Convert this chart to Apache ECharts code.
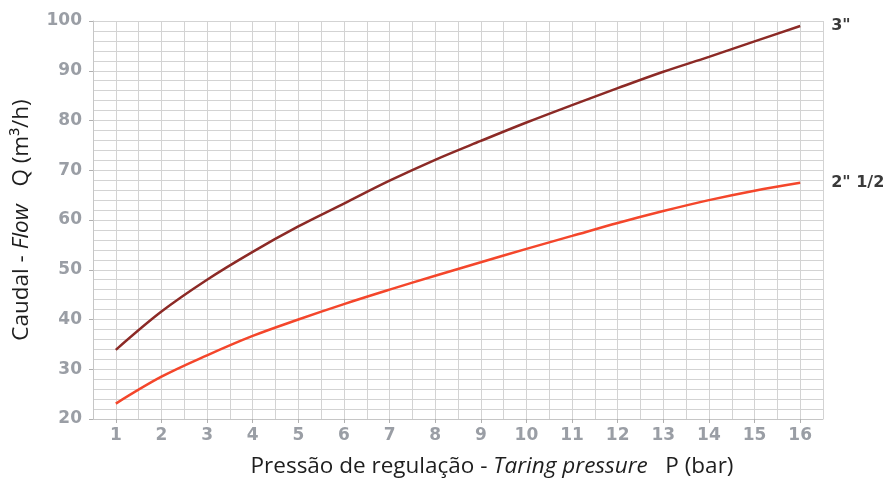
<!DOCTYPE html>
<html>
<head>
<meta charset="utf-8">
<script src="https://cdn.jsdelivr.net/npm/echarts@6/dist/echarts.min.js"></script>
<style>
html,body{margin:0;padding:0;background:#fff;}
#c{width:890px;height:487px;}
</style>
</head>
<body>
<div id="c"></div>
<script>
// Data
var pressure = [1, 2, 3, 4, 5, 6, 7, 8, 9, 10, 11, 12, 13, 14, 15, 16];
var flow3in = [33.9, 41.6, 48.0, 53.6, 58.7, 63.3, 67.9, 72.1, 75.9, 79.6, 83.1, 86.5, 89.8, 92.8, 95.9, 99.0];
var flow2half = [23.1, 28.5, 32.8, 36.7, 40.0, 43.1, 46.0, 48.8, 51.5, 54.2, 56.8, 59.4, 61.8, 64.0, 65.9, 67.5];
var seriesNames = ['3"', '2" 1/2'];
var xTicks = [1, 2, 3, 4, 5, 6, 7, 8, 9, 10, 11, 12, 13, 14, 15, 16];
var yTicks = [20, 30, 40, 50, 60, 70, 80, 90, 100];

function pairs(xs, ys) { return xs.map(function (x, i) { return [x, ys[i]]; }); }

var chart = echarts.init(document.getElementById('c'), null, { renderer: 'canvas' });
var gridColor = '#d3d3d3';
var axisColor = '#c6c6c6';
var tickLabel = { color: '#9a9ea5', fontFamily: 'DejaVu Sans', fontWeight: 'bold', fontSize: 17 };
var endLabelStyle = {
  show: true, distance: 31, color: '#3a3a3a', fontFamily: 'DejaVu Sans', fontWeight: 'bold', fontSize: 16,
  formatter: function (p) { return p.seriesName; }
};
var nameRich = {
  n: { fontFamily: 'Open Sans', fontSize: 22.5, color: '#1e1e1e' },
  i: { fontFamily: 'Open Sans', fontStyle: 'italic', fontSize: 22.5, color: '#1e1e1e' }
};

chart.setOption({
  animation: false,
  backgroundColor: '#ffffff',
  grid: { left: 93, right: 67, top: 21, bottom: 68, containLabel: false },
  xAxis: [
    { // grid lines every 0.5 bar
      type: 'value', min: 0.5, max: 16.5, interval: 0.5, position: 'bottom',
      axisLine: { show: false }, axisTick: { show: false }, axisLabel: { show: false },
      splitLine: { show: true, lineStyle: { color: gridColor, width: 1 } }
    },
    { // labelled axis
      type: 'value', min: 0.5, max: 16.5, position: 'bottom',
      axisLine: { show: true, lineStyle: { color: axisColor, width: 1 } },
      axisTick: { show: true, customValues: xTicks, length: 4, lineStyle: { color: '#b0b0b0' } },
      axisLabel: Object.assign({ customValues: xTicks, margin: 8 }, tickLabel),
      splitLine: { show: false },
      name: '{n|Pressão de regulação - }{i|Taring pressure}{n|   P (bar)}',
      nameLocation: 'middle', nameGap: 36,
      nameTextStyle: { padding: [0, 0, 0, 68], rich: nameRich }
    }
  ],
  yAxis: [
    { // grid lines every 2 m3/h
      type: 'value', min: 20, max: 100, interval: 2, position: 'left',
      axisLine: { show: false }, axisTick: { show: false }, axisLabel: { show: false },
      splitLine: { show: true, lineStyle: { color: gridColor, width: 1 } }
    },
    {
      type: 'value', min: 20, max: 100, position: 'left',
      axisLine: { show: true, lineStyle: { color: axisColor, width: 1 } },
      axisTick: { show: true, customValues: yTicks, length: 4, lineStyle: { color: '#b0b0b0' } },
      axisLabel: Object.assign({ customValues: yTicks, margin: 11 }, tickLabel),
      splitLine: { show: false },
      name: '{n|Caudal - }{i|Flow}{n|   Q (m³/h)}',
      nameLocation: 'middle', nameGap: 60, nameRotate: 90,
      nameTextStyle: { rich: nameRich }
    }
  ],
  series: [
    {
      name: seriesNames[0], type: 'line', smooth: 0.35, symbol: 'none',
      xAxisIndex: 1, yAxisIndex: 1,
      data: pairs(pressure, flow3in),
      lineStyle: { color: '#8c2a26', width: 2.5 },
      itemStyle: { color: '#8c2a26' },
      endLabel: endLabelStyle
    },
    {
      name: seriesNames[1], type: 'line', smooth: 0.35, symbol: 'none',
      xAxisIndex: 1, yAxisIndex: 1,
      data: pairs(pressure, flow2half),
      lineStyle: { color: '#f4462b', width: 2.5 },
      itemStyle: { color: '#f4462b' },
      endLabel: endLabelStyle
    }
  ]
});
</script>
</body>
</html>
